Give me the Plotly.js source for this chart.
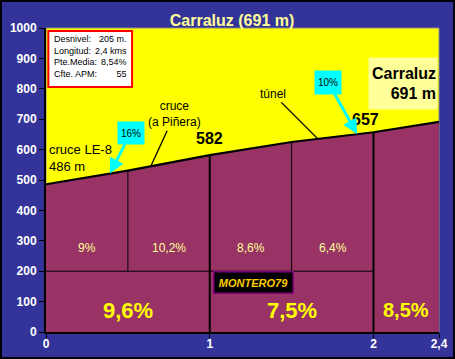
<!DOCTYPE html>
<html>
<head>
<meta charset="utf-8">
<script src="https://cdn.plot.ly/plotly-3.0.1.min.js"></script>
<style>
  html, body { margin: 0; padding: 0; background: #333399; }
  #wrap { position: relative; width: 455px; height: 359px; }
  #chart { width: 455px; height: 359px; }
  #frame { position: absolute; left: 0; top: 0; width: 455px; height: 359px; box-sizing: border-box; border: 2px solid #000; pointer-events: none; }
</style>
</head>
<body>
<div id="wrap"><div id="chart"></div><div id="frame"></div></div>
<script>
// ---- data ----
const distKm = [0, 0.5, 1, 1.5, 2, 2.4];
const elevM = [486, 531, 582, 625, 657, 691];
const subSlopes = ['9%', '10,2%', '8,6%', '6,4%'];
const kmBounds = [0, 1, 2, 2.4];
const kmSlopes = ['9,6%', '7,5%', '8,5%'];
const xTickVals = [0, 1, 2, 2.4];
const xTickText = ['0', '1', '2', '2,4'];
const infoLabels = ['Desnivel:', 'Longitud:', 'Pte.Media:', 'Cfte. APM:'];
const infoValues = ['205 m.', '2,4 kms', '8,54%', '55'];
const chartTitle = 'Carraluz (691 m)';
const subRowSplit = 200;

function elevAt(x) {
  for (let i = 0; i < distKm.length - 1; i++) {
    if (x >= distKm[i] && x <= distKm[i + 1]) {
      const t = (x - distKm[i]) / (distKm[i + 1] - distKm[i]);
      return elevM[i] + t * (elevM[i + 1] - elevM[i]);
    }
  }
  return elevM[elevM.length - 1];
}

const FONT = 'Arial, "Liberation Sans", sans-serif';

const trace = {
  x: distKm, y: elevM, type: 'scatter', mode: 'lines',
  line: { color: '#000000', width: 2.2 },
  fill: 'tozeroy', fillcolor: '#993366',
  hoverinfo: 'skip', showlegend: false
};

const shapes = [];
// plot frame (gray top/right)
shapes.push({ type: 'rect', xref: 'paper', yref: 'paper', x0: 0, x1: 1, y0: 0, y1: 1,
  line: { color: '#8a8a8a', width: 1 }, fillcolor: 'rgba(0,0,0,0)', layer: 'below' });
// sub-segment dividers (thin) between km bounds
const kmLast = kmBounds[kmBounds.length - 2];
distKm.forEach(d => {
  if (d > 0 && d < kmLast && !kmBounds.includes(d)) {
    shapes.push({ type: 'line', xref: 'x', yref: 'y', x0: d, x1: d, y0: subRowSplit, y1: elevAt(d),
      line: { color: '#000', width: 1 } });
  }
});
// km dividers (thick)
kmBounds.forEach(d => {
  if (d > 0 && d < distKm[distKm.length - 1]) {
    shapes.push({ type: 'line', xref: 'x', yref: 'y', x0: d, x1: d, y0: 0, y1: elevAt(d),
      line: { color: '#000', width: 2 } });
  }
});
// horizontal split
shapes.push({ type: 'line', xref: 'x', yref: 'y', x0: 0, x1: kmLast, y0: subRowSplit, y1: subRowSplit,
  line: { color: '#000', width: 1 } });
// info box
shapes.push({ type: 'rect', xref: 'paper', yref: 'paper', x0: 0.006, x1: 0.219, y0: 0.806, y1: 0.99,
  line: { color: '#ff0000', width: 2 }, fillcolor: '#ffffff' });

const annotations = [];
// sub-segment slope labels
for (let i = 0; i < subSlopes.length; i++) {
  annotations.push({ x: (distKm[i] + distKm[i + 1]) / 2, y: 276, xref: 'x', yref: 'y',
    text: subSlopes[i], showarrow: false, font: { family: FONT, size: 12, color: '#FFFF99' } });
}
// km slope labels
for (let i = 0; i < kmSlopes.length; i++) {
  const last = i === kmSlopes.length - 1;
  annotations.push({ x: (kmBounds[i] + kmBounds[i + 1]) / 2, y: 72, xref: 'x', yref: 'y',
    text: kmSlopes[i], showarrow: false,
    font: { family: FONT, size: last ? 20 : 22, color: '#FFFF00', weight: 700 } });
}
// info box texts
annotations.push({ xref: 'paper', yref: 'paper', x: 0.018, y: 0.982, xanchor: 'left', yanchor: 'top',
  text: infoLabels.join('<br>'), align: 'left', showarrow: false, borderpad: 0,
  font: { family: FONT, size: 9, color: '#000' } });
annotations.push({ xref: 'paper', yref: 'paper', x: 0.208, y: 0.982, xanchor: 'right', yanchor: 'top',
  text: infoValues.join('<br>'), align: 'right', showarrow: false, borderpad: 0,
  font: { family: FONT, size: 9, color: '#000' } });
// start label
annotations.push({ x: 0.006, y: 574, xref: 'x', yref: 'y', xanchor: 'left',
  text: 'cruce LE-8<br>' + elevM[0] + ' m', align: 'left', showarrow: false,
  font: { family: FONT, size: 13, color: '#000' } });
// elevation labels
annotations.push({ x: distKm[2], y: 638, xref: 'x', yref: 'y', text: String(elevM[2]), showarrow: false,
  font: { family: FONT, size: 16, color: '#000', weight: 700 } });
annotations.push({ x: 1.95, y: 700, xref: 'x', yref: 'y', text: String(elevM[4]), showarrow: false,
  font: { family: FONT, size: 16, color: '#000', weight: 700 } });
// cruce (a Piñera)
annotations.push({ x: 0.64, y: elevAt(0.64), xref: 'x', yref: 'y', ax: 24, ay: -52,
  text: 'cruce<br>(a Piñera)', align: 'center', showarrow: true, arrowhead: 0, arrowwidth: 1.3,
  arrowcolor: '#000', font: { family: FONT, size: 12, color: '#000' } });
// túnel
annotations.push({ x: 1.66, y: elevAt(1.66), xref: 'x', yref: 'y', ax: -45, ay: -45,
  text: 'túnel', showarrow: true, arrowhead: 0, arrowwidth: 1.3,
  arrowcolor: '#000', font: { family: FONT, size: 12, color: '#000' } });
// 16% callout
annotations.push({ x: 0.39, y: elevAt(0.39), xref: 'x', yref: 'y', ax: 21, ay: -41,
  text: '16%', showarrow: true, arrowhead: 2, arrowsize: 1, arrowwidth: 3,
  arrowcolor: '#00FFFF', bgcolor: '#00FFFF', width: 24, height: 20,
  font: { family: FONT, size: 10, color: '#000' } });
// 10% callout
annotations.push({ x: 1.9, y: elevAt(1.9), xref: 'x', yref: 'y', ax: -29, ay: -52,
  text: '10%', showarrow: true, arrowhead: 2, arrowsize: 1, arrowwidth: 3,
  arrowcolor: '#00FFFF', bgcolor: '#00FFFF', width: 24, height: 21,
  font: { family: FONT, size: 10, color: '#000' } });
// summit box
annotations.push({ xref: 'paper', yref: 'paper', x: 0.997, y: 0.905, xanchor: 'right', yanchor: 'top',
  text: 'Carraluz<br>' + elevM[elevM.length - 1] + ' m', align: 'right', showarrow: false,
  bgcolor: '#FFFF99', width: 66, height: 49, borderpad: 1,
  font: { family: FONT, size: 16, color: '#000', weight: 700 } });
// signature
annotations.push({ x: 1.02, y: 164, xref: 'x', yref: 'y', xanchor: 'left',
  text: '<i>MONTERO79</i>', showarrow: false, bgcolor: '#000000', bordercolor: '#800080',
  borderwidth: 1.5, width: 76, height: 18, borderpad: 1,
  font: { family: FONT, size: 11, color: '#FFCC00', weight: 700 } });

const layout = {
  width: 455, height: 359,
  margin: { l: 46, r: 16, t: 28, b: 27, pad: 0 },
  paper_bgcolor: '#333399', plot_bgcolor: '#FFFF00',
  title: { text: chartTitle, xref: 'container', x: 0.51, xanchor: 'center', yref: 'container', y: 0.942, yanchor: 'middle',
    font: { family: FONT, size: 16, color: '#FFFF99', weight: 700 } },
  xaxis: { range: [0, distKm[distKm.length - 1]], tickvals: xTickVals, ticktext: xTickText,
    showgrid: false, zeroline: false, showline: true, linecolor: '#000', linewidth: 2,
    ticks: 'outside', ticklen: 4, tickcolor: '#000', tickwidth: 1, ticklabelstandoff: -4,
    tickfont: { family: FONT, size: 12, color: '#FFFFFF', weight: 700 }, fixedrange: true },
  yaxis: { range: [0, 1000], dtick: 100, showgrid: false, zeroline: false, showline: true,
    linecolor: '#000', linewidth: 2, ticks: 'outside', ticklen: 5, tickcolor: '#000', tickwidth: 1,
    tickfont: { family: FONT, size: 12, color: '#FFFFFF', weight: 700 }, fixedrange: true },
  shapes: shapes, annotations: annotations, showlegend: false
};

Plotly.newPlot('chart', [trace], layout, { staticPlot: true, displayModeBar: false });
</script>
</body>
</html>
